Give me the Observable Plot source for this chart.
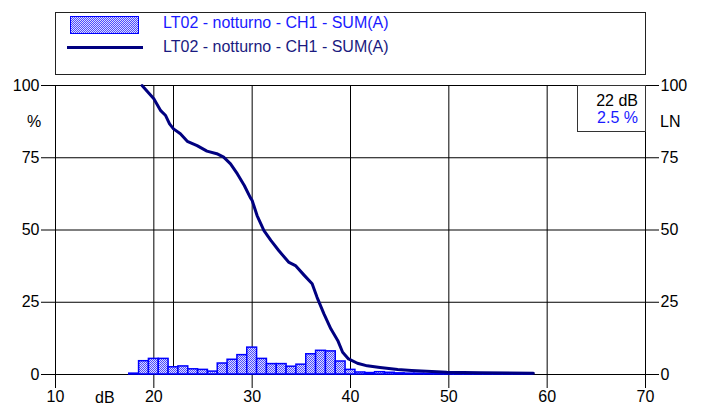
<!DOCTYPE html>
<html>
<head>
<meta charset="utf-8">
<script src="https://cdn.jsdelivr.net/npm/d3@7"></script>
<script src="https://cdn.jsdelivr.net/npm/@observablehq/plot@0.6"></script>
<style>
  html, body { margin: 0; padding: 0; background: #fff; overflow: hidden; }
  #wrap { position: relative; width: 703px; height: 407px; font-family: "Liberation Sans", Arial, sans-serif; font-size: 16px; }
  #wrap svg { position: absolute; left: 0; top: 0; }
  .ov { position: absolute; white-space: nowrap; line-height: 1; }
  #legend { position: absolute; left: 55px; top: 12px; width: 591px; height: 63px; box-sizing: border-box; border: 1px solid #222; background: #fff; }
  .sw { position: absolute; left: 14px; top: 3px; width: 69px; height: 18px; box-sizing: border-box; border: 1.5px solid #0000ff;
        background-color: #9090ff;
        background-image: repeating-conic-gradient(#4d4dff 0 25%, #dcdcff 0 50%);
        background-size: 2px 2px; }
  .ln { position: absolute; left: 11px; top: 33px; width: 76px; height: 3px; background: #000080; }
  #lnbox { position: absolute; left: 577px; top: 85px; width: 69px; height: 47px; box-sizing: border-box; border: 1px solid #333; background: #fff; }
</style>
</head>
<body>
<div id="wrap"></div>
<script>
// ---- data ----
const seriesName = "LT02 - notturno - CH1 - SUM(A)";
const xTicks = [10, 20, 30, 40, 50, 60, 70];
const yTicks = [0, 25, 50, 75, 100];
const lnLevel = 22;      // dB
const lnPercent = 2.5;   // %

// histogram: level class (dB, 1 dB classes) and percent of time
const histDb  = [18, 19, 20, 21, 22, 23, 24, 25, 26, 27, 28, 29, 30, 31, 32, 33, 34, 35, 36, 37, 38, 39, 40, 41, 42, 43, 44, 45, 46, 47, 48, 49, 50, 51, 52, 53, 54, 55, 56, 57, 58];
const histPct = [0.3, 4.6, 5.4, 5.4, 2.5, 2.8, 1.8, 1.6, 1.0, 3.8, 5.1, 6.7, 9.3, 5.4, 3.6, 3.6, 2.7, 3.4, 7.0, 8.2, 8.0, 4.5, 1.6, 0.7, 0.5, 0.8, 0.6, 0.4, 0.3, 0.3, 0.2, 0.2, 0.2, 0.15, 0.15, 0.1, 0.1, 0.1, 0.1, 0.1, 0.1];

// cumulative curve (percent of time level exceeded)
const curveDb  = [18.8, 20.0, 20.7, 21.2, 21.6, 22.0, 22.7, 23.4, 24.4, 25.4, 26.4, 27.1, 27.8, 28.5, 29.2, 29.8, 30.0, 30.5, 31.2, 31.9, 32.7, 33.7, 34.4, 35.3, 36.1, 36.6, 37.3, 38.0, 38.7, 39.2, 39.8, 40.7, 41.7, 43.0, 44.8, 46.2, 49.8, 53.2, 58.6];
const curvePct = [100, 95.4, 91.3, 89.6, 86.7, 85.0, 83.3, 80.7, 79.2, 77.3, 76.4, 75.2, 72.9, 69.4, 65.4, 61.3, 60.2, 55.0, 49.8, 46.4, 42.9, 38.9, 37.7, 34.3, 31.4, 26.7, 21.0, 15.8, 11.8, 7.7, 5.4, 3.9, 3.0, 2.4, 1.7, 1.4, 0.8, 0.6, 0.4];

const bins = histDb.map((d, i) => ({x1: d - 0.5, x2: d + 0.5, y: histPct[i]}));
const curve = curveDb.map((d, i) => ({x: d, y: curvePct[i]}));

const svg = Plot.plot({
  width: 703,
  height: 407,
  marginLeft: 55,
  marginRight: 58,
  marginTop: 85,
  marginBottom: 33,
  style: {fontFamily: "'Liberation Sans', Arial, sans-serif", fontSize: "16px", color: "#000", background: "transparent", overflow: "visible"},
  x: {domain: [10, 70], label: null},
  y: {domain: [0, 100], label: null},
  marks: [
    Plot.gridX(xTicks, {stroke: "#000", strokeOpacity: 1, strokeWidth: 1}),
    Plot.gridY(yTicks, {stroke: "#000", strokeOpacity: 1, strokeWidth: 1}),
    Plot.ruleX([lnLevel], {y1: 0, y2: 100, stroke: "#000", strokeWidth: 1}),
    Plot.axisX(xTicks, {tickSize: 14, tickPadding: 2, stroke: "#000", fontSize: 16}),
    Plot.axisY(yTicks, {anchor: "left", tickSize: 14, tickPadding: 2, fontSize: 16}),
    Plot.axisY(yTicks, {anchor: "right", tickSize: 13, tickPadding: 2, fontSize: 16}),
    Plot.rectY(bins, {x1: "x1", x2: "x2", y: "y", fill: "url(#chk)", stroke: "#0000ff", strokeWidth: 1.5}),
    Plot.line(curve, {x: "x", y: "y", stroke: "#000080", strokeWidth: 3, strokeLinejoin: "round"})
  ]
});

// checkered fill pattern for the histogram
const defs = d3.select(svg).insert("defs", ":first-child");
const pat = defs.append("pattern").attr("id", "chk").attr("patternUnits", "userSpaceOnUse").attr("width", 2).attr("height", 2);
pat.append("rect").attr("width", 2).attr("height", 2).attr("fill", "#dcdcff");
pat.append("rect").attr("width", 1).attr("height", 1).attr("fill", "#4d4dff");
pat.append("rect").attr("x", 1).attr("y", 1).attr("width", 1).attr("height", 1).attr("fill", "#4d4dff");

const wrap = document.getElementById("wrap");
wrap.appendChild(svg);

// legend
const legend = document.createElement("div");
legend.id = "legend";
legend.innerHTML = `<div class="sw"></div>
  <div class="ov" style="left:107px;top:2px;color:#1a1aff">${seriesName}</div>
  <div class="ln"></div>
  <div class="ov" style="left:107px;top:26px;color:#1a1a80">${seriesName}</div>`;
wrap.appendChild(legend);

// LN box
const box = document.createElement("div");
box.id = "lnbox";
box.innerHTML = `<div class="ov" style="right:7px;top:7px;color:#000">${lnLevel} dB</div>
  <div class="ov" style="right:7px;top:24px;color:#1a1aff">${lnPercent} %</div>`;
wrap.appendChild(box);

// axis captions
const cap = (txt, style) => { const d = document.createElement("div"); d.className = "ov"; d.textContent = txt; d.style.cssText += style; wrap.appendChild(d); };
cap("%", "left:27px;top:114px;");
cap("LN", "left:660px;top:114px;");
cap("dB", "left:95px;top:390px;");
</script>
</body>
</html>
